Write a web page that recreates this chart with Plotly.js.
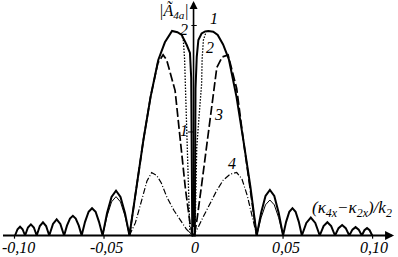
<!DOCTYPE html>
<html>
<head>
<meta charset="utf-8">
<script src="https://cdn.plot.ly/plotly-3.0.1.min.js"></script>
<style>html,body{margin:0;padding:0;background:#fff;}#chart{width:398px;height:257px;}</style>
</head>
<body>
<div id="chart"></div>
<script>
// Curve 1 (solid): main lobes and side lobes
const x1 = [-0.0997,-0.0983,-0.0969,-0.0955,-0.0941,
  -0.0925,-0.09085,-0.0892,-0.0876,
  -0.08585,-0.0841,-0.08235,-0.0806,
  -0.0785,-0.07645,-0.0744,-0.0723,
  -0.0707,-0.0690,-0.0674,-0.0658,-0.0641,-0.0625,
  -0.0606,-0.0586,-0.0567,-0.0547,-0.0528,-0.0508,
  -0.0483,-0.0458,-0.0433,-0.0408,-0.0383,-0.0358,
  -0.0320,-0.0280,-0.0240,-0.0197,-0.0160,-0.0120,-0.0090,-0.0066,-0.0038,-0.0020,-0.0013,-0.0010,-0.0007,
  0.0007,0.0009,0.0011,0.0018,0.0027,0.0045,0.0065,0.0083,0.0110,0.0135,0.0165,0.0197,0.0240,0.0278,0.0318,0.0353,
  0.03775,0.0402,0.04265,0.0451,0.04755,0.0500,
  0.0517,0.0535,0.05525,0.0570,0.0588,0.0605,
  0.0630,0.0655,0.0680,0.0705,
  0.07263,0.07475,0.07688,0.0790,
  0.0810,0.0830,0.0850,0.0870,
  0.08875,0.0905,0.09225,0.0940,
  0.09545,0.0969,0.09835,0.0998];
const y1 = [0,0.030,0.042,0.030,0,
  0.038,0.053,0.038,0,
  0.045,0.063,0.045,0,
  0.055,0.077,0.055,0,
  0.047,0.081,0.094,0.081,0.047,0,
  0.065,0.113,0.130,0.113,0.065,0,
  0.107,0.184,0.213,0.184,0.107,0,
  0.23,0.455,0.66,0.836,0.92,0.974,0.968,0.955,0.907,0.869,0.75,0.40,0,
  0,0.40,0.70,0.851,0.931,0.962,0.972,0.974,0.970,0.955,0.91,0.84,0.66,0.455,0.23,0,
  0.108,0.188,0.217,0.188,0.108,0,
  0.065,0.113,0.130,0.113,0.065,0,
  0.060,0.085,0.060,0,
  0.045,0.063,0.045,0,
  0.035,0.050,0.035,0,
  0.028,0.040,0.028,0,
  0.025,0.035,0.025,0];

// Curve 2 (dashed)
const x2 = [-0.0358,-0.0280,-0.0240,-0.0200,-0.0170,-0.0150,-0.0103,-0.0070,-0.0045,-0.0020,-0.0005,
  0.0005,0.0020,0.0045,0.0074,0.0100,0.0130,0.0160,0.0193,0.0241,0.0278,0.0353];
const y2 = [0,0.455,0.66,0.82,0.86,0.836,0.69,0.43,0.22,0.06,0,
  0,0.08,0.24,0.44,0.62,0.80,0.85,0.86,0.70,0.455,0];

// Curve 3 (dotted), near the centre
const x3 = [-0.0068,-0.0057,-0.0050,-0.0047,-0.0040,-0.0032,-0.0027,-0.0020, null,
  0.0008,0.0013,0.0018,0.0032,0.0045,0.0048,0.0055,0.0070];
const y3 = [0.96,0.93,0.84,0.75,0.60,0.42,0.20,0, null,
  0,0.20,0.42,0.58,0.72,0.84,0.93,0.97];

// Curve 4 (dash-dot)
const x4 = [-0.0358,-0.0325,-0.0289,-0.0260,-0.0234,-0.0205,-0.0180,-0.0150,-0.0110,-0.0075,-0.0040,-0.0005,
  0.0018,0.0055,0.0092,0.0130,0.0166,0.0205,0.0241,0.0270,0.0300,0.0328,0.0353];
const y4 = [0,0.06,0.17,0.26,0.30,0.285,0.25,0.185,0.12,0.074,0.03,0,
  0.026,0.09,0.153,0.215,0.264,0.292,0.30,0.27,0.19,0.09,0];

// lower first side lobes (thin)
const x5 = [-0.0508,-0.0483,-0.0458,-0.0433,-0.0408,-0.0383,-0.0358, null,
  0.0353,0.03775,0.0402,0.04265,0.0451,0.04755,0.0500];
const y5 = [0,0.093,0.160,0.185,0.160,0.093,0, null,
  0,0.085,0.146,0.169,0.146,0.085,0];

const tickVals = [-0.10,-0.05,0,0.05,0.10];
const tickText = ['-0,10','-0,05','0','0,05','0,10'];
const tickLabelX = [-0.0975,-0.0486,0.0010,0.0517,0.1008];

const curveLabels = ['1','2','3','4','2','1'];
const curveLabelX = [0.0115,0.0092,0.0137,0.0212,-0.0056,-0.0056];
const curveLabelY = [1.031,0.893,0.574,0.345,0.979,0.498];

const XMIN = -0.1081, XMAX = 0.1142, YMIN = -0.1024, YMAX = 1.1214;
const serif = 'Liberation Serif';
const F = {family:serif,size:16,color:'#000',style:'italic'};

const traces = [
  {x:x5,y:y5,mode:'lines',line:{color:'#000',width:1},connectgaps:false,hoverinfo:'skip'},
  {x:x4,y:y4,mode:'lines',line:{color:'#000',width:1.2,dash:'6px,2px,1px,2px'},hoverinfo:'skip'},
  {x:x3,y:y3,mode:'lines',line:{color:'#000',width:1.3,dash:'1.5px,1.5px'},connectgaps:false,hoverinfo:'skip'},
  {x:x2,y:y2,mode:'lines',line:{color:'#000',width:1.7,dash:'9px,3px'},hoverinfo:'skip'},
  {x:x1,y:y1,mode:'lines',line:{color:'#000',width:2},hoverinfo:'skip'}
];

const annotations = [];
tickText.forEach((t,i)=>annotations.push({x:tickLabelX[i],y:-0.055,xref:'x',yref:'y',text:t,showarrow:false,font:F}));
curveLabels.forEach((t,i)=>annotations.push({x:curveLabelX[i],y:curveLabelY[i],xref:'x',yref:'y',text:t,showarrow:false,font:F}));
annotations.push({x:-0.0110,y:1.069,xref:'x',yref:'y',text:'|Ã<sub>4a</sub>|',showarrow:false,font:F});
annotations.push({x:0.0885,y:0.126,xref:'x',yref:'y',text:'(κ<sub>4x</sub>−κ<sub>2x</sub>)/k<sub>2</sub>',showarrow:false,font:{family:serif,size:17,color:'#000',style:'italic'}});
// axis arrows
annotations.push({x:0.1120,y:0,ax:XMIN,ay:0,xref:'x',yref:'y',axref:'x',ayref:'y',text:' ',showarrow:true,arrowhead:2,arrowsize:1,arrowwidth:1.8,arrowcolor:'#000'});
annotations.push({x:0,y:1.117,ax:0,ay:0,xref:'x',yref:'y',axref:'x',ayref:'y',text:' ',showarrow:true,arrowhead:2,arrowsize:1,arrowwidth:1.6,arrowcolor:'#000'});

const shapes = [];
tickVals.forEach(v=>{ if(v!==0) shapes.push({type:'line',xref:'x',yref:'y',x0:v,x1:v,y0:0,y1:-0.015,line:{color:'#000',width:1.2}}); });
shapes.push({type:'line',xref:'x',yref:'y',x0:-0.0032,x1:0,y0:0.493,y1:0.493,line:{color:'#000',width:1}});
shapes.push({type:'line',xref:'x',yref:'y',x0:-0.0012,x1:0.0018,y0:1.0,y1:1.0,line:{color:'#000',width:1}});

const layout = {
  width:398,height:257,margin:{l:0,r:0,t:0,b:0},
  paper_bgcolor:'#fff',plot_bgcolor:'#fff',showlegend:false,
  font:{family:serif,color:'#000'},
  xaxis:{range:[XMIN,XMAX],visible:false,fixedrange:true},
  yaxis:{range:[YMIN,YMAX],visible:false,fixedrange:true},
  annotations:annotations,shapes:shapes
};
Plotly.newPlot('chart',traces,layout,{staticPlot:true,displayModeBar:false});
</script>
</body>
</html>
